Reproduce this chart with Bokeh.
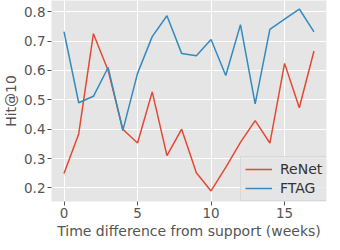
from bokeh.plotting import figure
from bokeh.models import Legend, LegendItem, FixedTicker, Range1d
from bokeh.embed import file_html
from bokeh.resources import INLINE

weeks = list(range(18))
renet = [0.249, 0.384, 0.725, 0.60, 0.40, 0.353, 0.527, 0.31, 0.40, 0.252,
         0.19, 0.27, 0.355, 0.429, 0.353, 0.624, 0.473, 0.666]
ftag = [0.732, 0.49, 0.512, 0.61, 0.395, 0.59, 0.715, 0.786, 0.658, 0.65,
        0.705, 0.583, 0.756, 0.486, 0.74, 0.775, 0.809, 0.731]
x_ticks = [0, 5, 10, 15]
y_ticks = [0.2, 0.3, 0.4, 0.5, 0.6, 0.7, 0.8]

FONT = "DejaVu Sans"
p = figure(width=330, height=241, output_backend="svg", toolbar_location=None,
           x_range=Range1d(-0.85, 17.85), y_range=Range1d(0.154, 0.838),
           min_border_left=40, min_border_right=4, min_border_top=0, min_border_bottom=40)
p.background_fill_color = "#E5E5E5"
p.border_fill_color = "white"
p.outline_line_color = None
p.grid.grid_line_color = "white"
p.grid.grid_line_width = 1

for ax in (p.xaxis[0], p.yaxis[0]):
    ax.axis_line_color = None
    ax.major_tick_line_color = "#555555"
    ax.major_tick_out = 4
    ax.major_tick_in = 0
    ax.minor_tick_line_color = None
    ax.major_label_text_color = "#555555"
    ax.major_label_text_font = FONT
    ax.major_label_text_font_size = "13.5px"
    ax.axis_label_text_color = "#555555"
    ax.axis_label_text_font = FONT
    ax.axis_label_text_font_size = "14px"
    ax.axis_label_text_font_style = "normal"
    ax.major_label_standoff = 2
    ax.axis_label_standoff = 2

p.xaxis.ticker = FixedTicker(ticks=x_ticks)
p.yaxis.ticker = FixedTicker(ticks=y_ticks)
p.xaxis.axis_label = "Time difference from support (weeks)"
p.yaxis.axis_label = "Hit@10"

r1 = p.line(weeks, renet, line_color="#E24A33", line_width=1.5)
r2 = p.line(weeks, ftag, line_color="#348ABD", line_width=1.5)

legend = Legend(items=[LegendItem(label="ReNet", renderers=[r1]),
                       LegendItem(label="FTAG", renderers=[r2])],
                location=(189, 0))
legend.background_fill_color = "#E5E5E5"
legend.background_fill_alpha = 0.8
legend.border_line_color = "#CCCCCC"
legend.border_line_width = 1
legend.label_text_font = FONT
legend.label_text_font_size = "14px"
legend.label_text_color = "#333333"
legend.glyph_width = 27
legend.glyph_height = 14
legend.spacing = 3
legend.padding = 4
legend.margin = 0
legend.label_standoff = 8
p.add_layout(legend, "center")

open("out.html", "w").write(file_html(p, INLINE))
